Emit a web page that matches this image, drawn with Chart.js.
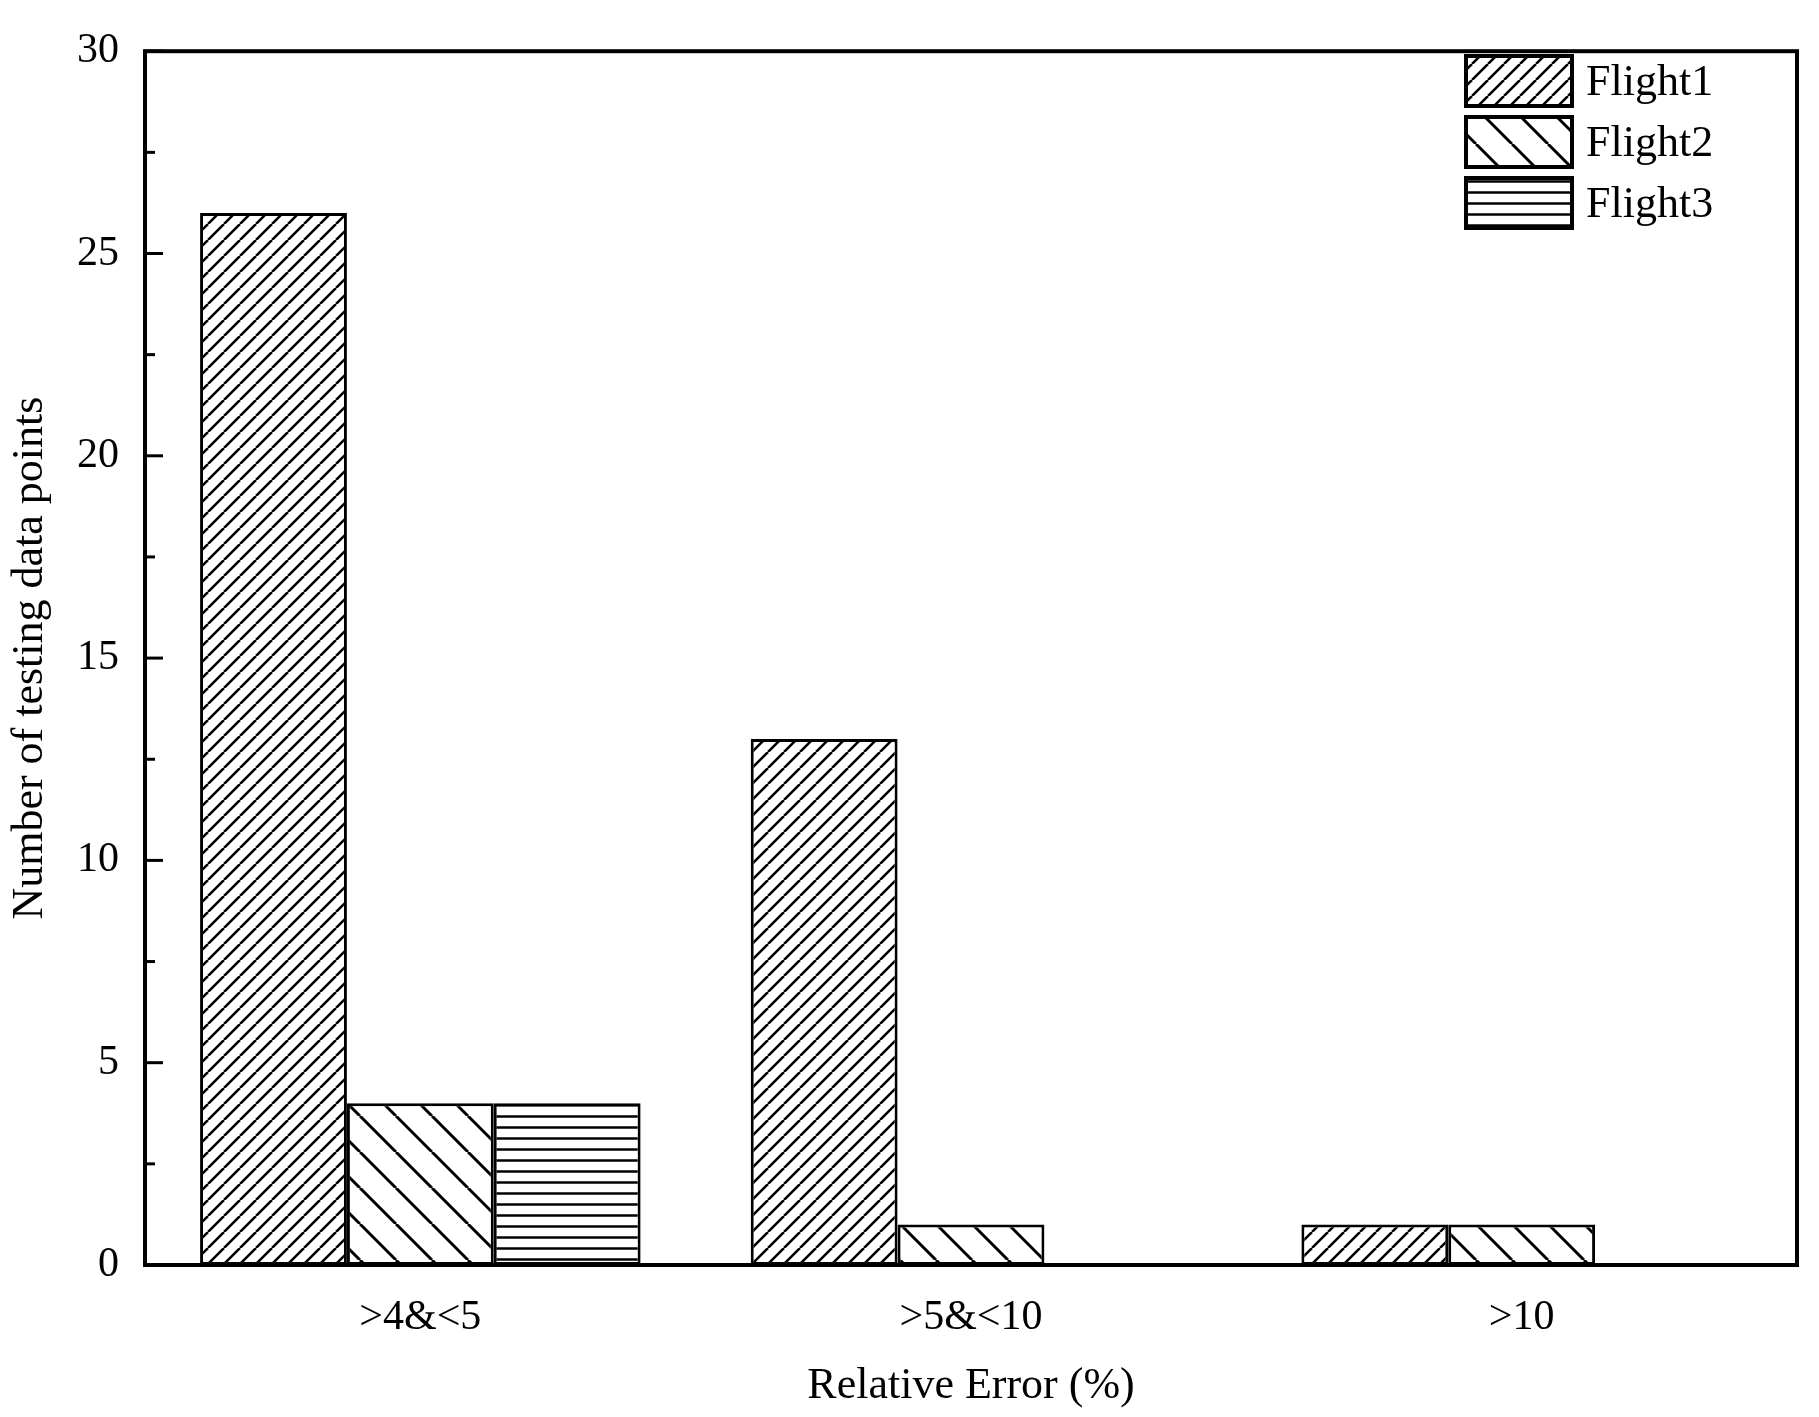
<!DOCTYPE html>
<html>
<head>
<script src="https://cdn.jsdelivr.net/npm/chart.js@4"></script>
<style>body{margin:0;background:#fff}</style>
</head>
<body>
<canvas id="c" width="1819" height="1417"></canvas>
<script>
const categories = ['>4&<5', '>5&<10', '>10'];
const flight1 = [26, 13, 1];
const flight2 = [4, 1, 1];
const flight3 = [4, 0, 0];
const seriesNames = ['Flight1', 'Flight2', 'Flight3'];

function hatch(kind) {
    const c = document.createElement('canvas');
    const s = kind === 'h' ? 11 : (kind === 'f' ? 16 : 36);
    c.width = s; c.height = s;
    const g = c.getContext('2d');
    g.fillStyle = '#fff'; g.fillRect(0, 0, s, s);
    g.strokeStyle = '#000'; g.lineWidth = kind === 'b' ? 3 : 2.5;
    g.beginPath();
    if (kind === 'h') { g.moveTo(0, s / 2); g.lineTo(s, s / 2); }
    else if (kind === 'f') { for (const o of [-s, 0, s]) { g.moveTo(o, s); g.lineTo(o + s, 0); } }
    else { for (const o of [-s, 0, s]) { g.moveTo(o, 0); g.lineTo(o + s, s); } }
    g.stroke();
    return g.createPattern(c, 'repeat');
}
const ctx = document.getElementById('c').getContext('2d');
const fills = [hatch('f'), hatch('b'), hatch('h')];
const font = 'Liberation Serif, Times New Roman, serif';

const frame = {
    id: 'frame',
    afterDraw(chart) {
        const { ctx, chartArea: a, scales: { y } } = chart;
        ctx.save();
        ctx.strokeStyle = '#000'; ctx.lineWidth = 4;
        ctx.strokeRect(a.left, a.top, a.right - a.left, a.bottom - a.top);
        ctx.lineWidth = 3;
        for (let v = 0; v <= 30; v += 2.5) {
            const py = y.getPixelForValue(v);
            const len = v % 5 === 0 ? 18 : 10;
            ctx.beginPath(); ctx.moveTo(a.left, py); ctx.lineTo(a.left + len, py); ctx.stroke();
        }
        // legend
        const bx = 1466, bw = 106, bh = 50, ys = [56, 117, 178];
        ctx.font = '44px ' + font; ctx.fillStyle = '#000'; ctx.textBaseline = 'middle';
        ys.forEach((ty, i) => {
            ctx.fillStyle = fills[i]; ctx.fillRect(bx, ty, bw, bh);
            ctx.lineWidth = 4; ctx.strokeRect(bx, ty, bw, bh);
            ctx.fillStyle = '#000'; ctx.fillText(seriesNames[i], bx + bw + 14, ty + bh / 2 + 2);
        });
        ctx.restore();
    }
};

const data = [flight1, flight2, flight3];
new Chart(ctx, {
    type: 'bar',
    data: {
        labels: categories,
        datasets: seriesNames.map((n, i) => ({
            label: n, data: data[i], backgroundColor: fills[i],
            borderColor: '#000', borderWidth: 3, borderSkipped: false
        }))
    },
    options: {
        responsive: false, animation: false,
        categoryPercentage: 0.8, barPercentage: 1,
        layout: { padding: { left: 0, right: 22, top: 33, bottom: 0 } },
        plugins: { legend: { display: false }, tooltip: { enabled: false } },
        scales: {
            x: {
                grid: { display: false, drawTicks: false }, border: { display: false },
                ticks: { color: '#000', font: { family: font, size: 42 }, padding: 28 },
                title: { display: true, text: 'Relative Error (%)', color: '#000', font: { family: font, size: 44 }, padding: { top: 8 } },
                afterFit(s) { s.height = 152; }
            },
            y: {
                min: 0, max: 30,
                grid: { display: false, drawTicks: false }, border: { display: false },
                ticks: { stepSize: 5, color: '#000', font: { family: font, size: 42 }, padding: 26 },
                title: { display: true, text: 'Number of testing data points', color: '#000', font: { family: font, size: 44 }, padding: { bottom: 4 } },
                afterFit(s) { s.width = 145; }
            }
        }
    },
    plugins: [frame]
});
</script>
</body>
</html>
